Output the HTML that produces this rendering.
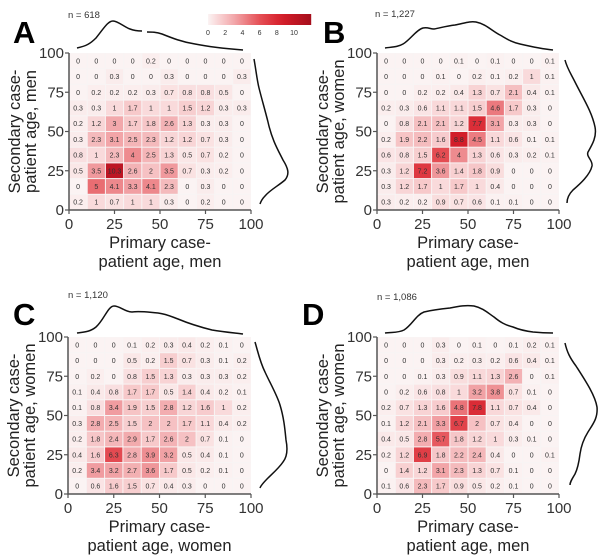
<!DOCTYPE html>
<html><head><meta charset="utf-8"><style>
html,body{margin:0;padding:0;background:#fff;}
svg{display:block;font-family:"Liberation Sans",sans-serif;}
</style></head><body>
<svg id="fig" width="600" height="559" viewBox="0 0 600 559"></svg>
<script>
const binLabels=[0,10,20,30,40,50,60,70,80,90];
const axisTicks=[0,25,50,75,100];
const colorbarTicks=[0,2,4,6,8,10];
// rows top (90-100) to bottom (0-10)
const valuesA=[
[0,0,0,0,0.2,0,0,0,0,0],
[0,0,0.3,0,0,0.3,0,0,0,0.3],
[0,0.2,0.2,0.2,0.3,0.7,0.8,0.8,0.5,0],
[0.3,0.3,1,1.7,1,1,1.5,1.2,0.3,0.3],
[0.2,1.2,3,1.7,1.8,2.6,1.3,0.3,0.3,0],
[0.3,2.3,3.1,2.5,2.3,1.2,1.2,0.7,0.3,0],
[0.8,1,2.3,4,2.5,1.3,0.5,0.7,0.2,0],
[0.5,3.5,10.3,2.6,2,3.5,0.7,0.3,0.2,0],
[0,5,4.1,3.3,4.1,2.3,0,0.3,0,0],
[0.2,1,0.7,1,1,0.3,0,0.2,0,0]];
const valuesB=[
[0,0,0,0,0.1,0,0.1,0,0,0.1],
[0,0,0,0.1,0,0.2,0.1,0.2,1,0.1],
[0,0,0.2,0.2,0.4,1.3,0.7,2.1,0.4,0.1],
[0.2,0.3,0.6,1.1,1.1,1.5,4.6,1.7,0.3,0],
[0,0.8,2.1,2.1,1.2,7.7,3.1,0.3,0.3,0],
[0.2,1.9,2.2,1.6,8.8,4.5,1.1,0.6,0.1,0.1],
[0.6,0.8,1.5,6.2,4,1.3,0.6,0.3,0.2,0.1],
[0.3,1.2,7.2,3.6,1.4,1.8,0.9,0,0,0],
[0.3,1.2,1.7,1,1.7,1,0.4,0,0,0],
[0.3,0.2,0.2,0.9,0.7,0.6,0.1,0.1,0,0]];
const valuesC=[
[0,0,0,0.1,0.2,0.3,0.4,0.2,0.1,0],
[0,0,0,0.5,0.2,1.5,0.7,0.3,0.1,0.2],
[0,0.2,0,0.8,1.5,1.3,0.3,0.3,0.3,0.2],
[0.1,0.4,0.8,1.7,1.7,0.5,1.4,0.4,0.2,0.1],
[0.1,0.8,3.4,1.9,1.5,2.8,1.2,1.6,1,0.2],
[0.3,2.8,2.5,1.5,2,2,1.7,1.1,0.4,0.2],
[0.2,1.8,2.4,2.9,1.7,2.6,2,0.7,0.1,0],
[0.4,1.6,6.3,2.8,3.9,3.2,0.5,0.4,0.1,0],
[0.2,3.4,3.2,2.7,3.6,1.7,0.5,0.2,0.1,0],
[0,0.6,1.6,1.5,0.7,0.4,0.3,0,0,0]];
const valuesD=[
[0,0,0,0.3,0,0.1,0,0.1,0.2,0.1],
[0,0,0,0.3,0.2,0.3,0.2,0.6,0.4,0.1],
[0,0,0.1,0.3,0.9,1.1,1.3,2.6,0,0.1],
[0,0.2,0.6,0.8,1,3.2,3.8,0.7,0.1,0],
[0.2,0.7,1.3,1.6,4.8,7.8,1.1,0.7,0.4,0],
[0.1,1.2,2.1,3.3,6.7,2,0.7,0.4,0,0],
[0.4,0.5,2.8,5.7,1.8,1.2,1,0.3,0.1,0],
[0.2,1.2,6.9,1.8,2.2,2.4,0.4,0,0,0.1],
[0,1.4,1.2,3.1,2.3,1.3,0.7,0.1,0,0],
[0.1,0.6,2.3,1.7,0.9,0.5,0.2,0.1,0,0]];

const NS='http://www.w3.org/2000/svg';
const svg=document.getElementById('fig');
function mk(tag,attrs,parent){const e=document.createElementNS(NS,tag);for(const k in attrs)e.setAttribute(k,attrs[k]);(parent||svg).appendChild(e);return e;}
function lerp(a,b,t){return Math.round(a+(b-a)*t);}
const stops=[[0,[251,243,243]],[1,[249,218,219]],[3,[242,168,171]],[6,[229,80,86]],[8.5,[214,30,42]],[12,[165,14,28]]];
function color(v){for(let i=0;i<stops.length-1;i++){const[a,ca]=stops[i],[b,cb]=stops[i+1];if(v<=b){const t=(v-a)/(b-a);return `rgb(${lerp(ca[0],cb[0],t)},${lerp(ca[1],cb[1],t)},${lerp(ca[2],cb[2],t)})`;}}return 'rgb(165,14,28)';}

const panels=[
 {key:'a',letter:'A',n:'n = 618',vals:valuesA,x0:69,x1:251,y0:210,y1:53,xt:'patient age, men',yt:'patient age, men',lx:13,ly:43,nx:68,ny:18,
  top:'M77,48 C86,46 90,44 96,38 C104,28 108,21 113,21 C118,21 124,27 130,29 C135,31 139,31 142,31 M147,32 C152,32 156,32 162,34 C172,38 182,42 195,44 C210,47 230,49 243,50',
  right:'M254,59 C256,70 257,80 259,88 C262,100 265,110 268,122 C272,140 278,150 283,160 C288,168 290,174 285,180 C278,186 270,190 265,196 C262,199 261,201 260,204'},
 {key:'b',letter:'B',n:'n = 1,227',vals:valuesB,x0:377,x1:559,y0:210,y1:53,xt:'patient age, men',yt:'patient age, women',lx:323,ly:43,nx:375,ny:17,
  top:'M385,48 C392,47 398,47 403,44 C410,40 416,30 423,28 C428,27 430,29 434,29 C440,28 446,26 455,25 C465,23 470,21 476,22 C486,24 492,31 500,35 C507,39 511,42 520,44 C533,47 543,49 553,50',
  right:'M565,60 C567,68 571,74 575,82 C583,98 592,112 595,127 C597,137 592,145 588,152 C586,157 593,160 592,166 C590,175 580,184 573,190 C569,194 567,198 567,203'},
 {key:'c',letter:'C',n:'n = 1,120',vals:valuesC,x0:68,x1:251,y0:494,y1:337,xt:'patient age, women',yt:'patient age, women',lx:13,ly:325,nx:68,ny:298,
  top:'M77,333 C84,332 90,332 96,327 C104,320 108,306 114,306 C120,306 125,312 132,312 C140,311 146,312 158,313 C166,314 170,316 178,319 C190,324 200,327 212,330 C224,332 235,333 243,334',
  right:'M255,342 C258,352 260,362 265,372 C270,383 277,395 280,405 C284,418 285,430 286,440 C288,450 287,457 283,462 C279,468 272,474 268,478 C264,482 261,485 260,488'},
 {key:'d',letter:'D',n:'n = 1,086',vals:valuesD,x0:377,x1:559,y0:494,y1:337,xt:'patient age, men',yt:'patient age, women',lx:302,ly:325,nx:377,ny:300,
  top:'M385,333 C392,332 398,333 404,330 C412,325 416,315 424,312 C432,310 440,309 450,308 C460,306 466,305 474,306 C483,308 488,313 494,317 C500,322 505,325 513,327 C520,330 525,331 533,332 C543,333 550,333 553,333',
  right:'M565,343 C567,352 570,358 576,366 C585,380 595,395 597,407 C598,418 593,424 588,432 C583,440 581,447 580,454 C579,462 578,468 575,474 C572,479 570,482 570,485'}
];

for(const p of panels){
  const g=mk('g',{});
  
  
  const sx=v=>p.x0+(p.x1-p.x0)*v/100;
  const sy=v=>p.y0+(p.y1-p.y0)*v/100;
  const bg=mk('rect',{x:sx(0)+1,y:sy(100),width:sx(100)-sx(0)-1,height:sy(0)-sy(100),fill:'#f8f4f4'},g);
  
  
  const nr=p.vals.length;
  p.vals.forEach((row,ri)=>{
    const lo=binLabels[nr-1-ri];
    row.forEach((v,ci)=>{
      const xl=binLabels[ci];
      const x=sx(xl),w=sx(xl+10)-sx(xl),y=sy(lo+10),h=sy(lo)-sy(lo+10);
      const r=mk('rect',{x:x+0.5,y:y+0.5,width:w-1,height:h-1,fill:color(v)},g);
      
      
      const t=mk('text',{x:x+w/2,y:y+h/2+2.5,'text-anchor':'middle','font-size':'7',fill:'#333'},g);
      
      
      t.textContent=String(v);
    });
  });
  const ax=mk('path',{d:`M${sx(0)},${sy(100)} V${sy(0)} H${sx(100)}`,stroke:'#555',fill:'none','stroke-width':1.5},g);
  
  
  for(const t of axisTicks){
    mk('line',{x1:sx(t),x2:sx(t),y1:sy(0),y2:sy(0)+4,stroke:'#555','stroke-width':1.2},g);
    const xl=mk('text',{x:sx(t),y:sy(0)+19,'text-anchor':'middle','font-size':'15',fill:'#333'},g);
    
    
    xl.textContent=t;
    mk('line',{x1:sx(0)-4,x2:sx(0),y1:sy(t),y2:sy(t),stroke:'#555','stroke-width':1.2},g);
    const yl=mk('text',{x:sx(0)-5,y:sy(t)+5,'text-anchor':'end','font-size':'15',fill:'#333'},g);
    
    
    yl.textContent=t;
  }
  const cx=(sx(0)+sx(100))/2;
  const xt=mk('text',{x:cx,y:sy(0)+38,'text-anchor':'middle','font-size':'16.5',fill:'#222'},g);
  
  
  xt.innerHTML=`<tspan x="${cx}">Primary case-</tspan><tspan x="${cx}" dy="19">${p.xt}</tspan>`;
  const cy=(sy(0)+sy(100))/2;
  const yx=sx(0)-49;
  const yt=mk('text',{transform:`translate(${yx},${cy}) rotate(-90)`,'text-anchor':'middle','font-size':'16.5',fill:'#222'},g);
  
  
  yt.innerHTML=`<tspan x="0" y="0">Secondary case-</tspan><tspan x="0" dy="16">${p.yt}</tspan>`;
  const L=mk('text',{x:p.lx,y:p.ly,'font-size':'31','font-weight':'bold',fill:'#000'},g);
  
  
  L.textContent=p.letter;
  const N=mk('text',{x:p.nx,y:p.ny,'font-size':'9.5',fill:'#333'},g);
  
  
  N.textContent=p.n;
  const td=mk('path',{d:p.top,stroke:'#111',fill:'none','stroke-width':1.5},g);
  
  
  const rd=mk('path',{d:p.right,stroke:'#111',fill:'none','stroke-width':1.5},g);
  
  
}

const cb=mk('g',{});


const defs=mk('defs',{},cb);
const lg=mk('linearGradient',{id:'cbg',x1:'0',x2:'1',y1:'0',y2:'0'},defs);
for(let i=0;i<=12;i++){mk('stop',{offset:(i/12),'stop-color':color(i)},lg);}
const cbx0=208,cbx10=294,cbMax=12;
const cbx=v=>cbx0+(cbx10-cbx0)*v/10;
mk('rect',{x:cbx(0),y:14,width:cbx(cbMax)-cbx(0),height:11,fill:'url(#cbg)'},cb);
for(const t of colorbarTicks){
  const tl=mk('text',{x:cbx(t),y:35,'text-anchor':'middle','font-size':'7',fill:'#333'},cb);
  
  
  tl.textContent=t;
}
</script>
</body></html>
